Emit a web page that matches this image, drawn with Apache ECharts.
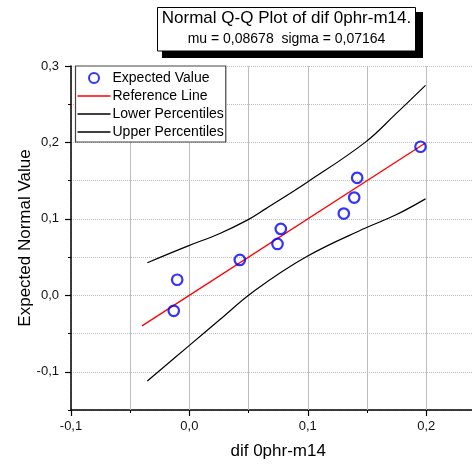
<!DOCTYPE html>
<html>
<head>
<meta charset="utf-8">
<script src="https://cdn.jsdelivr.net/npm/echarts@6/dist/echarts.min.js"></script>
<style>html,body{margin:0;padding:0;background:#fff}#c{width:472px;height:465px}</style>
</head>
<body>
<div id="c"></div>
<script>
// ---- data ----
const sampleValues = [-0.0132, -0.0103, 0.0426, 0.0744, 0.0772, 0.1304, 0.1392, 0.1417, 0.1952];
const expectedValues = [-0.0202, 0.0204, 0.0463, 0.0672, 0.0869, 0.1069, 0.1279, 0.1537, 0.1944];
const refLineX = [-0.04, 0.199];
const refLineY = [-0.04, 0.199];
const upperX = [-0.0355, -0.0005, 0.0248, 0.0493, 0.0643, 0.0995, 0.1487, 0.1741, 0.1994];
const upperY = [0.0427, 0.0650, 0.0803, 0.0987, 0.1131, 0.1480, 0.2004, 0.2370, 0.2747];
const lowerX = [-0.0355, -0.0005, 0.0248, 0.0550, 0.0995, 0.1487, 0.1741, 0.1994];
const lowerY = [-0.1120, -0.0661, -0.0330, 0.0060, 0.0510, 0.0880, 0.1050, 0.1262];
const gridValuesX = [-0.05, 0.0, 0.05, 0.1, 0.15, 0.2];
const majorTicks = [-0.1, 0.0, 0.1, 0.2, 0.3];
const titleText = 'Normal Q-Q Plot of dif 0phr-m14.';
const subTitleText = 'mu = 0,08678  sigma = 0,07164';
const xName = 'dif 0phr-m14';
const yName = 'Expected Normal Value';
const legendNames = ['Expected Value', 'Reference Line', 'Lower Percentiles', 'Upper Percentiles'];

const FONT = "'Liberation Sans', Arial, sans-serif";
const GRID_COLOR = '#bdbdbd';
const zip = (a, b) => a.map((v, i) => [v, b[i]]);
const fmt = v => {
  const r = Math.round(v * 10);
  if (Math.abs(v * 10 - r) > 1e-6) return '';
  return (r / 10).toFixed(1).replace('.', ',');
};
const LINE_ICON = 'path://M0,0 L100,0 L100,4 L0,4 Z';
const mkGrid = () => ({show: true, lineStyle: {color: GRID_COLOR, width: 1, type: 'dotted'}});

const chart = echarts.init(document.getElementById('c'), null, {renderer: 'canvas'});
chart.setOption({
  animation: false,
  backgroundColor: '#fff',
  textStyle: {fontFamily: FONT},
  graphic: [
    {type: 'rect', shape: {x: 162, y: 12, width: 261, height: 46}, style: {fill: '#000'}, z: 10},
    {type: 'rect', shape: {x: 157.5, y: 7.5, width: 258, height: 43.5}, style: {fill: '#fff', stroke: '#000', lineWidth: 1}, z: 11}
  ],
  title: {
    text: titleText,
    subtext: subTitleText,
    left: 286.5,
    top: 10,
    textAlign: 'center',
    padding: 0,
    itemGap: 5,
    z: 12,
    textStyle: {fontFamily: FONT, fontSize: 17, fontWeight: 'normal', color: '#000'},
    subtextStyle: {fontFamily: FONT, fontSize: 14, color: '#000'}
  },
  legend: {
    orient: 'vertical',
    left: 75.5,
    top: 66,
    padding: [5, 2, 3, 2],
    itemGap: 4,
    itemWidth: 33,
    itemHeight: 10,
    backgroundColor: '#fff',
    borderColor: '#444',
    borderWidth: 1.2,
    borderRadius: 0,
    data: [
      {name: legendNames[0]},
      {name: legendNames[1], icon: LINE_ICON},
      {name: legendNames[2], icon: LINE_ICON},
      {name: legendNames[3], icon: LINE_ICON}
    ],
    textStyle: {fontFamily: FONT, fontSize: 14, color: '#000', padding: [0, 0, 0, -3]},
    z: 8
  },
  grid: {left: 71, top: 66, bottom: 55, right: -13.4, outerBoundsMode: 'none', containLabel: false},
  xAxis: [
    {
      type: 'value', min: -0.1, max: 0.25, interval: 0.05,
      name: xName, nameLocation: 'middle', nameGap: 33, nameMoveOverlap: false,
      nameTextStyle: {fontFamily: FONT, fontSize: 17, color: '#000'},
      axisLine: {show: true, onZero: false, lineStyle: {color: '#000', width: 1.5}},
      axisTick: {show: true, length: 3, lineStyle: {color: '#000', width: 1}},
      axisLabel: {formatter: fmt, margin: 10, fontFamily: FONT, fontSize: 13, color: '#111'},
      splitLine: mkGrid()
    },
    {
      type: 'value', min: -0.1, max: 0.25, interval: 0.05, position: 'bottom',
      axisLine: {show: false, onZero: false},
      axisTick: {show: true, length: 6, customValues: majorTicks.slice(0, 4), lineStyle: {color: '#000', width: 1.2}},
      axisLabel: {show: false},
      splitLine: {show: false}
    }
  ],
  yAxis: [
    {
      type: 'value', min: -0.15, max: 0.3, interval: 0.05,
      name: yName, nameLocation: 'middle', nameGap: 37, nameMoveOverlap: false,
      nameTextStyle: {fontFamily: FONT, fontSize: 17, color: '#000'},
      axisLine: {show: true, onZero: false, lineStyle: {color: '#000', width: 1.5}},
      axisTick: {show: true, length: 3, lineStyle: {color: '#000', width: 1}},
      axisLabel: {formatter: fmt, margin: 12, fontFamily: FONT, fontSize: 13, color: '#111'},
      splitLine: mkGrid()
    },
    {
      type: 'value', min: -0.15, max: 0.3, interval: 0.05, position: 'left',
      axisLine: {show: false, onZero: false},
      axisTick: {show: true, length: 6, customValues: majorTicks, lineStyle: {color: '#000', width: 1.2}},
      axisLabel: {show: false},
      splitLine: mkGrid()
    }
  ],
  series: [
    {
      name: legendNames[0], type: 'scatter', xAxisIndex: 0, yAxisIndex: 0,
      data: zip(sampleValues, expectedValues),
      symbol: 'circle', symbolSize: 10.5,
      itemStyle: {color: 'rgba(255,255,255,0)', borderColor: '#0000ff', borderWidth: 2.2},
      z: 5
    },
    {
      name: legendNames[1], type: 'line', xAxisIndex: 0, yAxisIndex: 0,
      data: zip(refLineX, refLineY), symbol: 'none',
      itemStyle: {color: '#ff0000'},
      lineStyle: {color: '#ff0000', width: 1.3}, z: 4,
      markLine: {
        silent: true, symbol: 'none', animation: false, z: 1,
        label: {show: false},
        lineStyle: {color: GRID_COLOR, width: 1, type: 'dotted'},
        emphasis: {disabled: true},
        data: gridValuesX.map(v => ({xAxis: v}))
      }
    },
    {
      name: legendNames[2], type: 'line', xAxisIndex: 0, yAxisIndex: 0,
      data: zip(lowerX, lowerY), symbol: 'none', smooth: 0.4,
      itemStyle: {color: '#000'},
      lineStyle: {color: '#000', width: 1.2}, z: 3
    },
    {
      name: legendNames[3], type: 'line', xAxisIndex: 0, yAxisIndex: 0,
      data: zip(upperX, upperY), symbol: 'none', smooth: 0.4,
      itemStyle: {color: '#000'},
      lineStyle: {color: '#000', width: 1.2}, z: 3
    }
  ]
});
</script>
</body>
</html>
